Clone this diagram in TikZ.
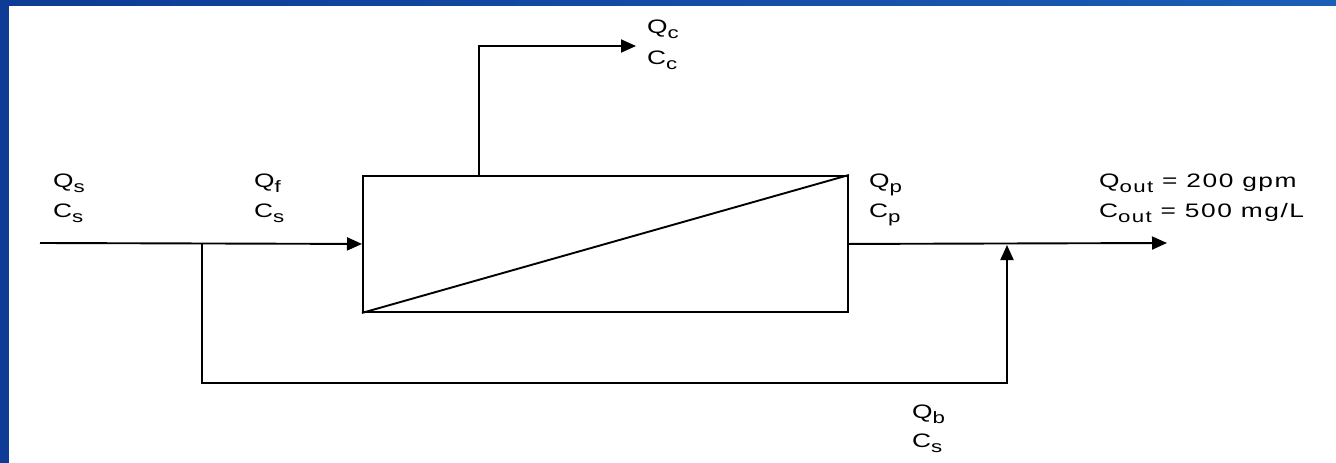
\documentclass[tikz,border=0pt]{standalone}
\usepackage{fontspec}
\setmainfont{Liberation Sans}[FakeStretch=1.35,LetterSpace=8]
\usetikzlibrary{arrows.meta}
\definecolor{frameblue}{HTML}{0D3B96}
\definecolor{frameblue2}{HTML}{1B5EB5}
\newcommand\lowsub[1]{\raisebox{-5pt}{\fontsize{16.5}{18}\selectfont #1}}
\begin{document}
\begin{tikzpicture}[x=1pt,y=-1pt,
  pipe/.style={line width=1.9pt},
  flow/.style={line width=1.9pt, -{Triangle[length=15pt,width=13pt]}},
  lbl/.style={anchor=base west, inner sep=0pt, font=\fontsize{19.5}{22}\selectfont}]
\useasboundingbox (0,0) rectangle (1336,463);
\fill[white] (0,0) rectangle (1336,463);
\fill[frameblue] (0,0) rectangle (9,463);
\shade[left color=frameblue, right color=frameblue2] (0,0) rectangle (1336,5);

\node[draw, line width=1.9pt, minimum width=485pt, minimum height=136pt, anchor=north west, inner sep=0pt] (box) at (362,175) {};
\draw[pipe] (box.south west) -- (box.north east);

\coordinate (in) at (40,243);
\coordinate (j1) at (202,243);
\coordinate (j1b) at (202,383);
\coordinate (j2b) at (1007,383);
\coordinate (j2) at (1007,245);
\coordinate (outend) at (1167,243);
\coordinate (ctop) at (479,46);
\coordinate (cend) at (636,46);

\draw[flow] (in) -- (box.west);
\draw[flow] (j1) -- (j1b) -- (j2b) -- (j2);
\draw[flow] (box.east) -- (outend);
\draw[flow] (box.north -| ctop) -- (ctop) -- (cend);

\node[lbl] (qs) at (53,187) {Q\lowsub{s}};
\node[lbl] (cs) at (53,217) {C\lowsub{s}};
\node[lbl] (qf) at (254,187) {Q\lowsub{f}};
\node[lbl] (cf) at (254,217) {C\lowsub{s}};
\node[lbl] (qc) at (647,34) {Q\lowsub{c}};
\node[lbl] (cc) at (647,64) {C\lowsub{c}};
\node[lbl] (qp) at (869,187) {Q\lowsub{p}};
\node[lbl] (cp) at (869,217) {C\lowsub{p}};
\node[lbl] (qout) at (1099,187) {Q\lowsub{out} = 200 gpm};
\node[lbl] (cout) at (1099,217) {C\lowsub{out} = 500 mg/L};
\node[lbl] (qb) at (912,418) {Q\lowsub{b}};
\node[lbl] (cb) at (912,447) {C\lowsub{s}};
\end{tikzpicture}
\end{document}
